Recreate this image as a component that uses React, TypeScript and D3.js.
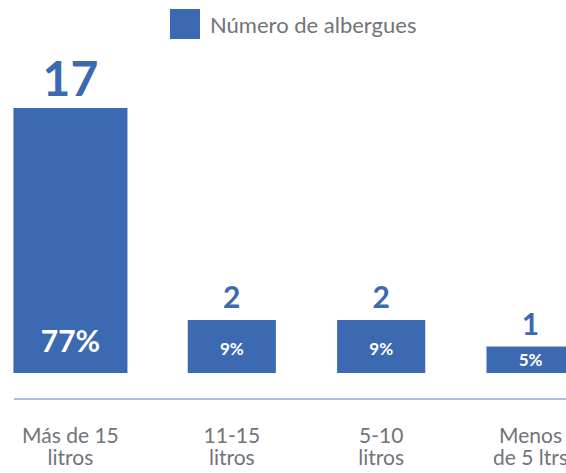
import React from "react";
import * as d3 from "d3";

const categories = ["Más de 15|litros", "11-15|litros", "5-10|litros", "Menos|de 5 ltrs"];
const counts = [17, 2, 2, 1];
const percents = [77, 9, 9, 5];
const seriesName = "Número de albergues";

const W = 566;
const H = 473;
const blue = "#3b69b2";
const grey = "#6f747a";
const font = "Lato, 'Open Sans', sans-serif";

export default function App() {
  const baseY = 373;

  // band scale for the categories; the first column is drawn wider
  const x = d3.scaleBand<string>()
    .domain(categories)
    .range([8.5, 604.5])
    .paddingInner(0.41)
    .paddingOuter(0.2);

  // y is clamped: the tall first bar is cut short like in the original
  const y = d3.scaleLinear().domain([0, 10]).range([baseY, 108]).clamp(true);

  const center = (c: string, i: number) => x(c)! + x.bandwidth() / 2 + (i === 0 ? -12 : 0);
  const barW = (i: number) => (i === 0 ? 114 : x.bandwidth());

  return (
    <svg width={W} height={H} style={{ position: "absolute", left: 0, top: 0, background: "#fff" }} fontFamily={font}>
      {/* legend */}
      <g transform="translate(170,9)">
        <rect width={30} height={30} fill={blue} />
        <text x={40} y={24} fontSize={22} fill={grey}>{seriesName}</text>
      </g>

      {categories.map((c, i) => {
        const cx = center(c, i);
        const top = y(counts[i]);
        const w = barW(i);
        const pctY = Math.max(baseY - 18, (top + baseY) / 2 + 6);
        return (
          <g key={c}>
            <rect x={cx - w / 2} y={top} width={w} height={baseY - top} fill={blue} />
            <text x={cx} y={top - 12} textAnchor="middle" fontWeight="bold" fontSize={i === 0 ? 48 : 30} fill={blue}>
              {counts[i]}
            </text>
            <text x={cx} y={i === 0 ? baseY - 21 : pctY} textAnchor="middle" fontWeight="bold" fontSize={i === 0 ? 30 : 17} fill="#fff">
              {percents[i]}%
            </text>
            <text x={cx} y={443} textAnchor="middle" fontSize={21} fill={grey}>
              {c.split("|").map((line, k) => (
                <tspan key={k} x={cx} dy={k === 0 ? 0 : 22}>{line}</tspan>
              ))}
            </text>
          </g>
        );
      })}

      <line x1={14} x2={W} y1={399} y2={399} stroke="#a9bde0" strokeWidth={2} />
    </svg>
  );
}
